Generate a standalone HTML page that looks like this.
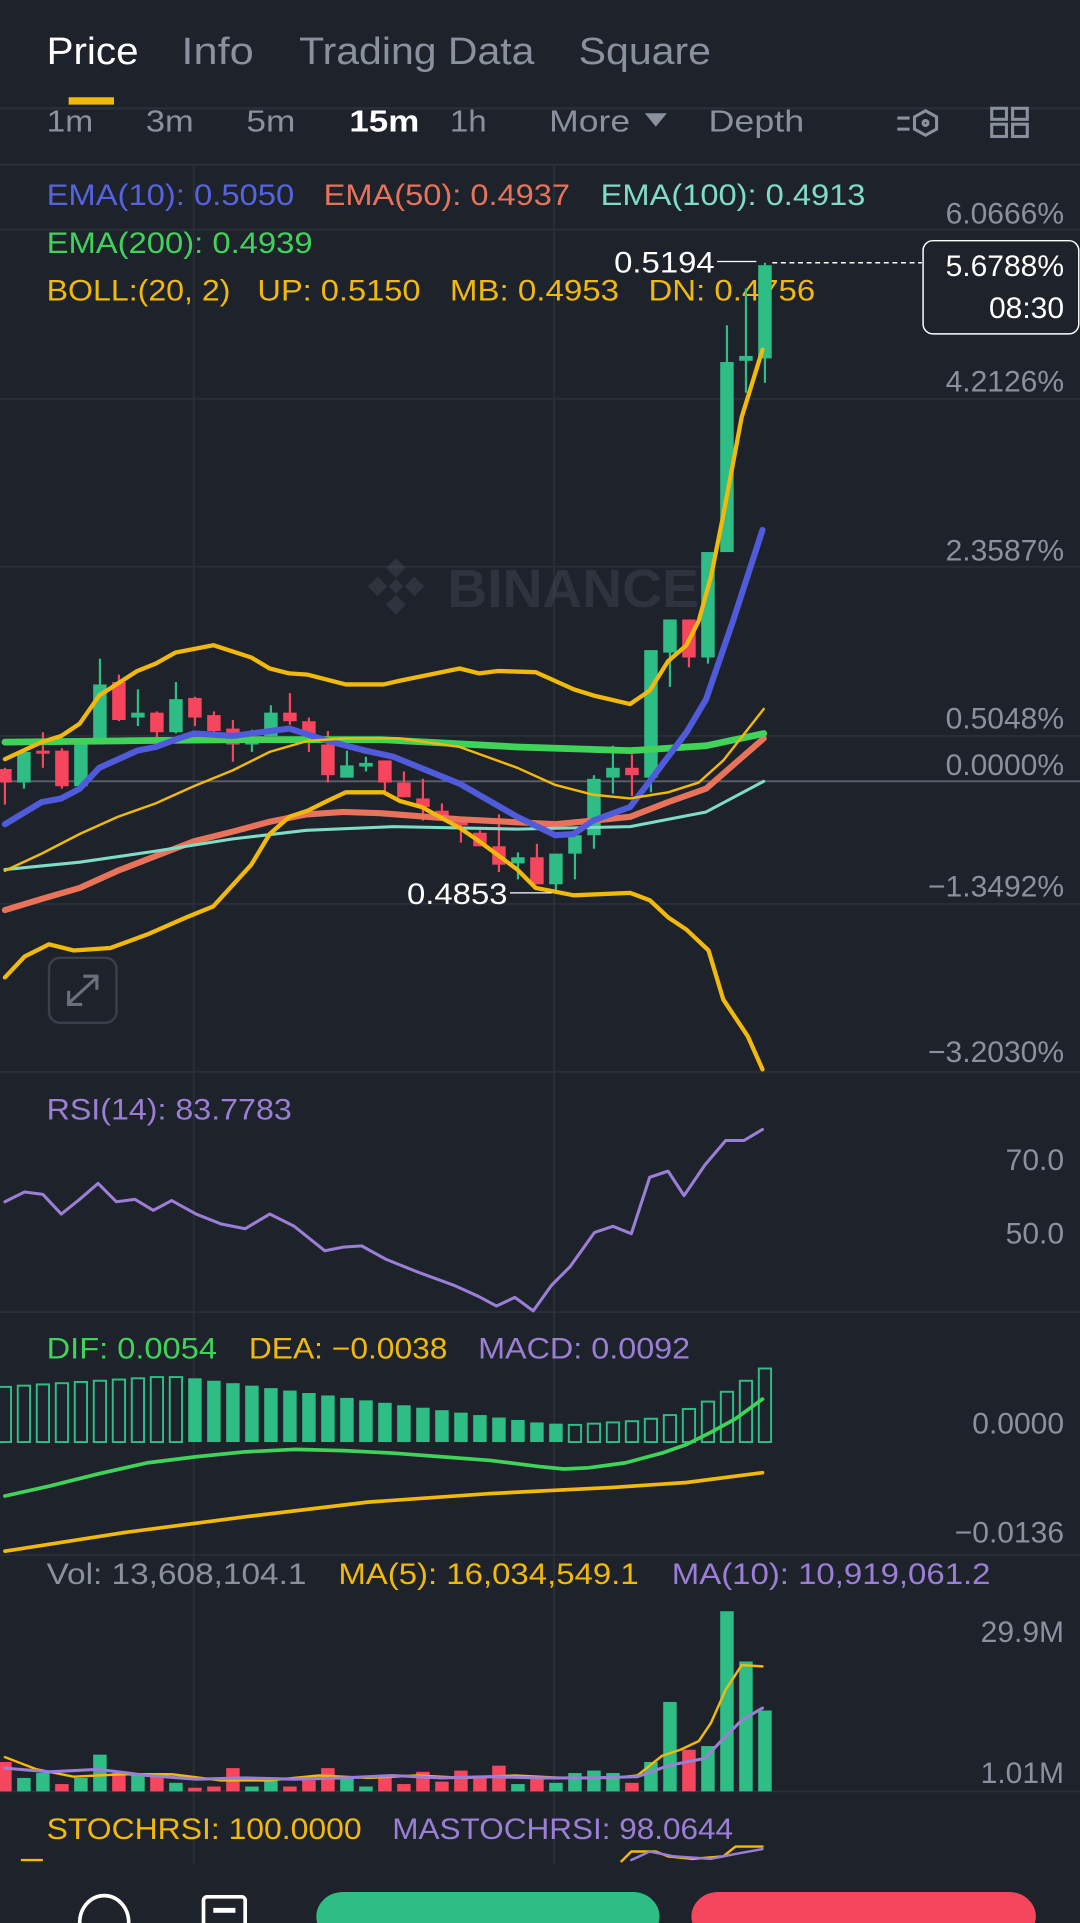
<!DOCTYPE html>
<html><head><meta charset="utf-8"><style>
html,body{margin:0;padding:0;background:#1e222a;}
svg{display:block;}
text{font-family:"Liberation Sans",sans-serif;}
</style></head><body>
<svg id="s" width="1080" height="1923" viewBox="0 0 881 1568" xmlns="http://www.w3.org/2000/svg">
<rect width="881" height="1568" fill="#1e222a"/>
<!-- tabs -->
<g font-size="31" lengthAdjust="spacingAndGlyphs">
<text x="38" y="52" fill="#ffffff" textLength="75" lengthAdjust="spacingAndGlyphs">Price</text>
<text x="148" y="52" fill="#8a919e" textLength="59" lengthAdjust="spacingAndGlyphs">Info</text>
<text x="244" y="52" fill="#8a919e" textLength="192" lengthAdjust="spacingAndGlyphs">Trading Data</text>
<text x="472" y="52" fill="#8a919e" textLength="108" lengthAdjust="spacingAndGlyphs">Square</text>
</g>
<rect x="56" y="79" width="37" height="6" fill="#f0b90b"/>
<rect x="0" y="87" width="881" height="2" fill="#2a2e37"/>
<g font-size="25" fill="#8a919e">
<text x="38" y="107" textLength="38" lengthAdjust="spacingAndGlyphs">1m</text>
<text x="119" y="107" textLength="39" lengthAdjust="spacingAndGlyphs">3m</text>
<text x="201" y="107" textLength="40" lengthAdjust="spacingAndGlyphs">5m</text>
<text x="285" y="107" fill="#ffffff" font-weight="bold" textLength="57" lengthAdjust="spacingAndGlyphs">15m</text>
<text x="367" y="107" textLength="30" lengthAdjust="spacingAndGlyphs">1h</text>
<text x="448" y="107" textLength="66" lengthAdjust="spacingAndGlyphs">More</text>
<text x="578" y="107" textLength="78" lengthAdjust="spacingAndGlyphs">Depth</text></g>
<path d="M526 92 L544 92 L535 103 Z" fill="#8a919e"/>
<g stroke="#8a919e" stroke-width="2.5" fill="none">
<path d="M732 96h10 M732 105h10"/><path d="M755 90 l9 5 v10 l-9 5 l-9 -5 v-10 Z"/><circle cx="755" cy="100" r="2"/>
<rect x="809" y="88" width="12" height="9"/><rect x="826" y="88" width="12" height="9"/><rect x="809" y="101" width="12" height="10"/><rect x="826" y="101" width="12" height="10"/>
</g>
<rect x="0" y="133" width="881" height="2" fill="#2a2e37"/>
<!-- grid -->
<g stroke="#2a2e37" stroke-width="1.5">
<line x1="158" y1="134" x2="158" y2="1520"/><line x1="452" y1="134" x2="452" y2="1520"/>
<line x1="0" y1="187" x2="881" y2="187"/><line x1="0" y1="325" x2="881" y2="325"/><line x1="0" y1="462" x2="881" y2="462"/>
<line x1="0" y1="600" x2="881" y2="600"/><line x1="0" y1="737" x2="881" y2="737"/>
<line x1="0" y1="874" x2="881" y2="874"/><line x1="0" y1="1070" x2="881" y2="1070"/>
<line x1="0" y1="1268" x2="881" y2="1268"/><line x1="0" y1="1461" x2="881" y2="1461"/>
</g>
<line x1="0" y1="637" x2="881" y2="637" stroke="#5b606b" stroke-width="1.5"/>
<!-- watermark -->
<g opacity="0.22" fill="#6b7280">
<path d="M323 455 l8 8 -8 8 -8 -8z M308 470 l8 8 -8 8 -8 -8z M338 470 l8 8 -8 8 -8 -8z M323 485 l8 8 -8 8 -8 -8z M323 472 l6 6 -6 6 -6 -6z"/>
<text x="365" y="495" font-size="44" font-weight="bold" textLength="205" lengthAdjust="spacingAndGlyphs">BINANCE</text></g>
<!-- legend -->
<g font-size="24">
<text x="38" y="167" fill="#5563e0" textLength="202" lengthAdjust="spacingAndGlyphs">EMA(10): 0.5050</text>
<text x="264" y="167" fill="#e8735a" textLength="201" lengthAdjust="spacingAndGlyphs">EMA(50): 0.4937</text>
<text x="490" y="167" fill="#7fdcc7" textLength="216" lengthAdjust="spacingAndGlyphs">EMA(100): 0.4913</text>
<text x="38" y="206" fill="#3fd35a" textLength="217" lengthAdjust="spacingAndGlyphs">EMA(200): 0.4939</text>
<text x="38" y="245" fill="#f0b90b" textLength="150" lengthAdjust="spacingAndGlyphs">BOLL:(20, 2)</text>
<text x="210" y="245" fill="#f0b90b" textLength="133" lengthAdjust="spacingAndGlyphs">UP: 0.5150</text>
<text x="367" y="245" fill="#f0b90b" textLength="138" lengthAdjust="spacingAndGlyphs">MB: 0.4953</text>
<text x="529" y="245" fill="#f0b90b" textLength="136" lengthAdjust="spacingAndGlyphs">DN: 0.4756</text>
</g>
<g font-size="24.5" fill="#8a919e" text-anchor="end">
<text x="868" y="182">6.0666%</text><text x="868" y="319">4.2126%</text><text x="868" y="457">2.3587%</text>
<text x="868" y="594">0.5048%</text><text x="868" y="632">0.0000%</text><text x="868" y="731">−1.3492%</text>
<text x="868" y="866">−3.2030%</text>
<text x="868" y="954">70.0</text><text x="868" y="1014">50.0</text>
<text x="868" y="1169">0.0000</text><text x="868" y="1258">−0.0136</text>
<text x="868" y="1339">29.9M</text><text x="868" y="1454">1.01M</text>
</g>
<g id="candles"></g>
<g id="lines" fill="none" stroke-linejoin="round" stroke-linecap="round"></g>
<!-- price labels -->
<text x="501" y="222" font-size="24" fill="#ffffff" textLength="82" lengthAdjust="spacingAndGlyphs">0.5194</text>
<line x1="585" y1="213" x2="617" y2="213" stroke="#ffffff" stroke-width="1"/>
<line x1="630" y1="214" x2="752" y2="214" stroke="#ffffff" stroke-width="1.2" stroke-dasharray="4 3"/>
<rect x="753" y="196" width="127" height="76" rx="8" fill="#1e222a" stroke="#ffffff" stroke-width="1.2"/>
<text x="868" y="225" font-size="24.5" fill="#ffffff" text-anchor="end">5.6788%</text>
<text x="868" y="259" font-size="24.5" fill="#ffffff" text-anchor="end">08:30</text>
<text x="332" y="737" font-size="24" fill="#ffffff" textLength="82" lengthAdjust="spacingAndGlyphs">0.4853</text>
<line x1="416" y1="728" x2="450" y2="728" stroke="#ffffff" stroke-width="1"/>
<rect x="40" y="781" width="55" height="53" rx="9" fill="none" stroke="#3a3f4a" stroke-width="2"/>
<g stroke="#6b717c" stroke-width="2.5" fill="none"><path d="M55 819 L80 796 M56 808 v11 h11 M79 807 v-11 h-11"/></g>
<!-- panels -->
<g font-size="24">
<text x="38" y="913" fill="#9b7fd6" textLength="200" lengthAdjust="spacingAndGlyphs">RSI(14): 83.7783</text>
<text x="38" y="1108" fill="#3fd35a" textLength="139" lengthAdjust="spacingAndGlyphs">DIF: 0.0054</text>
<text x="203" y="1108" fill="#f0b90b" textLength="162" lengthAdjust="spacingAndGlyphs">DEA: −0.0038</text>
<text x="390" y="1108" fill="#9b7fd6" textLength="173" lengthAdjust="spacingAndGlyphs">MACD: 0.0092</text>
<text x="38" y="1292" fill="#8a919e" textLength="212" lengthAdjust="spacingAndGlyphs">Vol: 13,608,104.1</text>
<text x="276" y="1292" fill="#f0b90b" textLength="245" lengthAdjust="spacingAndGlyphs">MA(5): 16,034,549.1</text>
<text x="548" y="1292" fill="#9b7fd6" textLength="260" lengthAdjust="spacingAndGlyphs">MA(10): 10,919,061.2</text>
<text x="38" y="1500" fill="#f0b90b" textLength="257" lengthAdjust="spacingAndGlyphs">STOCHRSI: 100.0000</text>
<text x="320" y="1500" fill="#9b7fd6" textLength="278" lengthAdjust="spacingAndGlyphs">MASTOCHRSI: 98.0644</text>
</g>
<path d="M17 1517 h18" stroke="#f0b90b" stroke-width="2"/>
<!-- bottom -->
<ellipse cx="85" cy="1568" rx="20" ry="22" fill="none" stroke="#ffffff" stroke-width="3"/>
<rect x="166" y="1547" width="34" height="30" rx="3" fill="none" stroke="#ffffff" stroke-width="3"/>
<rect x="174" y="1556" width="18" height="4" fill="#ffffff"/>
<rect x="258" y="1543" width="280" height="40" rx="22" fill="#2ebd85"/>
<rect x="564" y="1543" width="281" height="40" rx="22" fill="#f6465d"/>
</svg>
<script>
var NS="http://www.w3.org/2000/svg";
var G="#2ebd85",R="#f6465d";
var c=[["r",627,638,626,656],["g",613,638,613,643],["r",612,614,597,626],["r",612,641,610,643],["g",605,641,605,641],["g",558,603,537,603],["r",556,587,550,588],["g",581,585,562,592],["r",581,597,580,602],["g",570,597,556,598],["r",569,585,568,592],["r",583,596,580,597],["r",594,607,587,621],["g",604,607,595,613],["g",581,600,575,600],["r",581,588,565,591],["r",588,600,585,613],["r",607,632,596,638],["g",624,634,612,634],["g",622,625,617,629],["r",620,638,620,645],["r",638,650,629,650],["r",651,658,635,669],["r",661,669,655,669],["r",668,673,668,687],["r",679,690,677,690],["r",690,705,664,711],["g",699,704,695,717],["r",699,721,688,721],["g",696,721,696,727],["g",681,696,681,717],["g",635,681,632,692],["g",626,634,608,647],["r",626,632,615,649],["g",530,634,530,646],["g",505,532,505,560],["r",505,536,505,544],["g",450,536,450,541],["g",295,450,265,450],["g",290,294,235,320],["g",216,292,214,312]];
var cg=document.getElementById("candles");
function el(t,a,p){var e=document.createElementNS(NS,t);for(var k in a)e.setAttribute(k,a[k]);(p||cg).appendChild(e);return e;}
c.forEach(function(d,i){var x=4+15.5*i,col=d[0]=="g"?G:R;
el("rect",{x:x-0.9,y:d[3],width:1.8,height:d[4]-d[3],fill:col});
var t=Math.min(d[1],d[2]),h=Math.max(Math.abs(d[2]-d[1]),2.5);
el("rect",{x:x-5.5,y:t,width:11,height:h,fill:col});});
var mt=[1131,1130,1129,1128,1127,1126,1125,1124,1123,1123,1124,1126,1128,1130,1132,1134,1136,1138,1140,1142,1144,1146,1148,1150,1152,1154,1156,1158,1160,1161,1162,1161,1160,1159,1157,1154,1149,1143,1135,1126,1116];
mt.forEach(function(y,i){var x=4+15.5*i;var hol=(i<10||i>=30);
if(hol)el("rect",{x:x-5,y:y,width:10,height:1176-y,fill:"none",stroke:G,"stroke-width":1.6});
else el("rect",{x:x-5.5,y:y,width:11,height:1176-y,fill:G});});
var vt=[1437,1450,1446,1455,1450,1431,1446,1447,1448,1454,1458,1457,1442,1457,1452,1457,1452,1442,1449,1457,1448,1455,1445,1453,1444,1448,1440,1455,1451,1454,1446,1444,1446,1454,1437,1388,1427,1424,1314,1355,1395];
var vc="rggrggrgrgrrrggrrrggrrrrrrrgrgggggrgrggg";
vt.forEach(function(y,i){var x=4+15.5*i;var col=(i==36||i==33)?R:(vc[i]=="g"?G:R);if(i>=34&&i!=36)col=G;
el("rect",{x:x-5.5,y:y,width:11,height:1461-y,fill:col});});
var lg=document.getElementById("lines");
function pl(pts,col,w){el("polyline",{points:pts,stroke:col,"stroke-width":w},lg);}
pl("4,742 34,733 65,724 96,710 127,698 158,686 190,678 220,670 250,664 280,662 310,663 375,668 453,672 484,669 514,666 545,654 576,643 623,602","#e8735a",5);
pl("4,709 65,703 127,694 190,684 250,677 321,674 422,676 514,674 576,662 623,637","#7fdcc7",2.5);
pl("4,605 100,604 200,603 310,603 422,609 514,612 576,608 623,598","#3fd35a",5.5);
pl("4,672 34,654 50,651 65,643 81,626 112,612 127,609 143,603 158,598 190,600 205,598 236,594 267,604 298,612 321,617 375,639 422,666 453,681 468,680 484,669 514,658 530,637 560,597 576,570 598,506 622,432","#4f5bdb",5);
pl("4,619 34,605 50,600 65,590 81,567 112,547 127,541 143,532 174,526 205,536 220,545 236,549 251,550 282,558 313,558 326,555 375,545 391,549 406,547 437,548 468,562 484,567 514,574 530,563 545,539 560,526 570,506 580,470 590,420 605,340 622,285","#f0b90b",3.5);
pl("4,710 34,696 65,680 96,666 127,655 158,641 190,628 220,613 251,604 282,602 326,602 375,609 422,626 453,640 484,648 514,651 545,646 570,638 590,620 623,578","#f0b90b",2);
pl("4,797 20,780 40,770 60,775 90,773 120,762 152,748 174,739 205,705 220,680 236,666 251,661 267,653 282,646 313,646 326,653 344,658 375,675 391,686 422,709 437,724 468,730 514,728 530,734 545,748 560,758 578,775 590,815 610,845 622,872","#f0b90b",3.5);
pl("4,980 20,972 35,974 50,990 65,978 80,965 95,980 110,978 125,987 140,979 160,990 180,998 200,1002 220,990 240,1000 265,1020 280,1017 295,1016 315,1027 340,1037 370,1048 390,1057 405,1065 420,1058 435,1069 450,1048 465,1033 485,1005 500,1000 515,1006 530,960 545,955 558,975 575,950 592,930 607,930 622,921","#9b7fd6",2.5);
pl("4,1220 40,1212 80,1202 120,1193 160,1188 200,1184 240,1182 280,1183 320,1185 360,1188 400,1191 440,1196 460,1198 480,1197 510,1193 540,1185 560,1178 580,1168 600,1157 622,1141","#3fd35a",3);
pl("4,1265 100,1250 200,1237 300,1225 400,1218 500,1213 560,1209 622,1201","#f0b90b",3);
pl("4,1433 30,1443 60,1449 100,1447 140,1447 180,1452 220,1452 260,1448 300,1450 340,1448 380,1450 420,1448 460,1450 500,1450 520,1448 540,1432 555,1427 570,1420 580,1405 592,1378 605,1358 622,1359","#f0b90b",2);
pl("4,1442 40,1445 80,1443 120,1448 160,1451 200,1450 240,1451 280,1450 320,1448 360,1450 400,1449 440,1450 480,1450 520,1449 545,1440 560,1437 575,1434 590,1418 605,1403 622,1393","#9b7fd6",2.5);
pl("507,1518 515,1510 535,1510 545,1514 565,1516 590,1514 600,1506 622,1506","#f0b90b",2);
pl("515,1517 530,1510 550,1514 580,1516 600,1512 622,1508","#9b7fd6",2);
</script>
</body></html>
